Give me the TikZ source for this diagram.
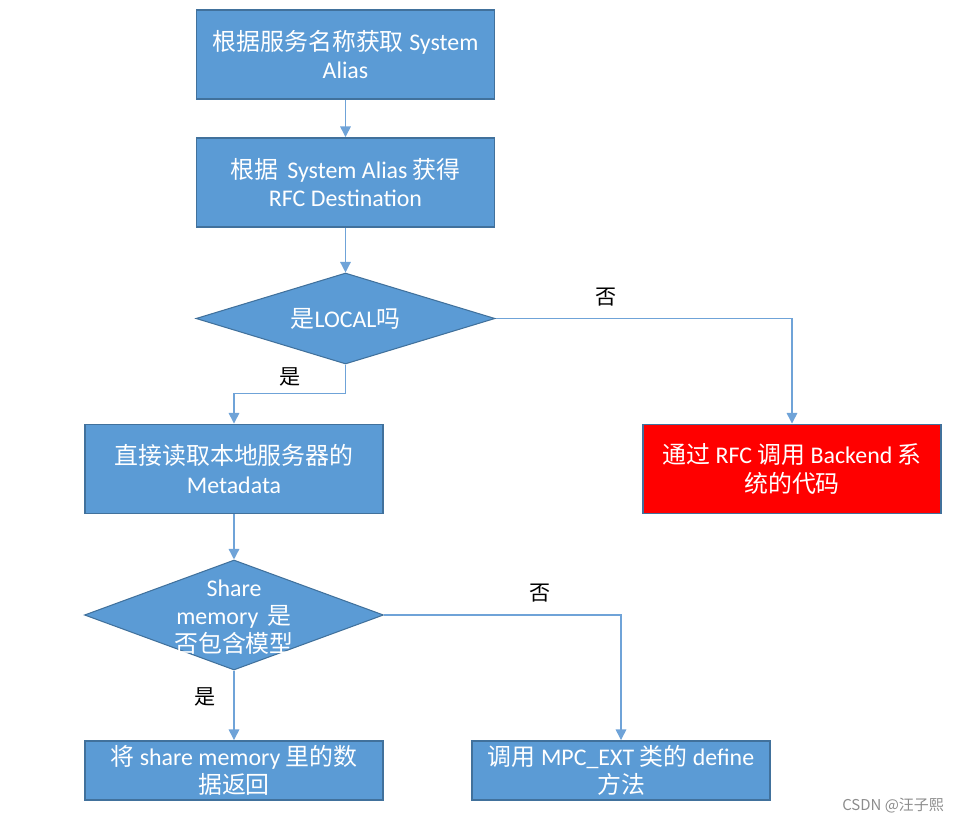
\documentclass[tikz,border=0pt]{standalone}
\usepackage{fontspec}
\setmainfont{Carlito}
\newfontfamily\cjk{Noto Sans CJK SC}
\usepackage{tikz}
\usetikzlibrary{arrows.meta, positioning, shapes.geometric}
\definecolor{boxblue}{HTML}{5B9BD5}
\definecolor{boxedge}{HTML}{41719C}
\definecolor{linkblue}{HTML}{6FA3D8}

\begin{document}
\begin{tikzpicture}[font=\fontsize{13.6}{16}\selectfont, >={Triangle[width=6pt,length=6pt]},
  proc/.style={rectangle, draw=boxedge, fill=boxblue, line width=1.1pt,
               minimum width=5.96cm, minimum height=1.78cm, inner sep=0pt,
               text=white, align=center},
  procR/.style={proc, fill=red},
  dec/.style={diamond, draw=boxedge, fill=boxblue, line width=0.6pt,
              minimum width=5.98cm, inner sep=0pt},
  dtxt/.style={text=white, align=center},
  conn/.style={draw=linkblue, line width=0.8pt, ->},
  lab/.style={font=\cjk\fontsize{12}{14}\selectfont, text=black}]
\useasboundingbox (0,0) rectangle (19.14,16.44);
\node[proc] (b1) at (6.91,15.35) {{\cjk 根据服务名称获取} System\\Alias};
\node[proc] (b2) at (6.91,12.79) {{\cjk 根据}\, System Alias {\cjk 获得}\\RFC Destination};
\node[dec, minimum height=1.82cm,
      label={[dtxt]center:{\cjk 是}LOCAL{\cjk 吗}}] (d1) at (6.91,10.07) {};
\node[proc] (b3) at (4.68,7.06) {{\cjk 直接读取本地服务器的}\\Metadata};
\node[procR] (r1) at (15.84,7.06) {{\cjk 通过} RFC {\cjk 调用} Backend {\cjk 系}\\{\cjk 统的代码}};
\node[dec, minimum height=2.2cm,
      label={[dtxt, yshift=-0.04cm]center:Share\\memory\, {\cjk 是}\\{\cjk 否包含模型}}] (d2) at (4.68,4.14) {};
\node[proc, minimum height=1.18cm] (b4) at (4.68,1.03) {{\cjk 将} share memory {\cjk 里的数}\\{\cjk 据返回}};
\node[proc, minimum height=1.18cm] (b5) at (12.42,1.03) {{\cjk 调用} MPC\_EXT {\cjk 类的} define\\{\cjk 方法}};
% connectors
\draw[conn] (b1) -- (b2);
\draw[conn] (b2) -- (d1);
\draw[conn] (d1.south) -- ++(0,-0.58) -| (b3.north);
\draw[conn] (d1.east) -| (r1.north);
\draw[conn] (b3) -- (d2);
\draw[conn] (d2) -- (b4);
\draw[conn] (d2.east) -| (b5.north);
% branch labels
\node[lab] (y1) at (5.8,8.9) {是};
\node[lab] (n1) at (12.12,10.5) {否};
\node[lab] (y2) at (4.1,2.5) {是};
\node[lab] (n2) at (10.8,4.58) {否};
\node[font=\cjk\fontsize{8.5}{10}\selectfont, text=black!45] (wm) at (17.86,0.32) {CSDN @汪子熙};
\end{tikzpicture}
\end{document}
